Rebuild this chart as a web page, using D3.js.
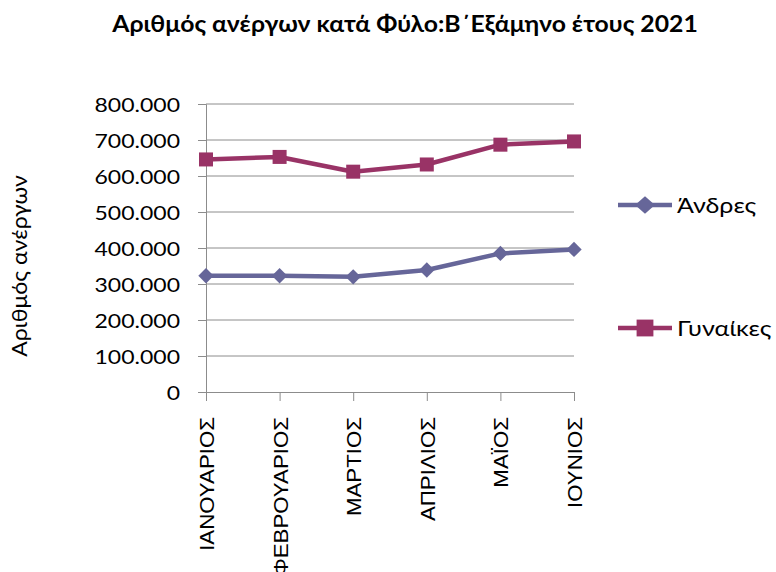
<!DOCTYPE html>
<html>
<head>
<meta charset="utf-8">
<script src="https://cdn.jsdelivr.net/npm/d3@7"></script>
<style>
  html, body { margin: 0; padding: 0; background: #fff; }
  svg { display: block; }
</style>
</head>
<body>
<svg id="chart" width="776" height="572"></svg>
<script>
// ---------- data ----------
const months = ["ΙΑΝΟΥΑΡΙΟΣ", "ΦΕΒΡΟΥΑΡΙΟΣ", "ΜΑΡΤΙΟΣ", "ΑΠΡΙΛΙΟΣ", "ΜΑΪΟΣ", "ΙΟΥΝΙΟΣ"];
const seriesNames = ["Άνδρες", "Γυναίκες"];
const andres = [323000, 323000, 320000, 339000, 385000, 396000];
const gynaikes = [646000, 653000, 612000, 632000, 687000, 696000];
const yTicks = [0, 100000, 200000, 300000, 400000, 500000, 600000, 700000, 800000];
const titleText = "Αριθμός ανέργων κατά Φύλο:Β΄Εξάμηνο έτους 2021";
const yAxisTitle = "Αριθμός ανέργων";

// ---------- setup ----------
const svg = d3.select("#chart");
const colors = ["#666699", "#993366"];
const seriesValues = [andres, gynaikes];
const FONT = "Lato, 'Open Sans', sans-serif";

const x = d3.scalePoint().domain(months).range([206, 574]).padding(0);
const y = d3.scaleLinear().domain([0, 800000]).range([392, 104]);

const locale = d3.formatLocale({ decimal: ",", thousands: ".", grouping: [3], currency: ["", "€"] });
const fmt = locale.format(",d");

// stretch helper: widen text along its direction by a factor
function stretch(sel, k) {
  sel.each(function () {
    const w = this.getComputedTextLength();
    d3.select(this).attr("textLength", w * k).attr("lengthAdjust", "spacingAndGlyphs");
  });
}

// ---------- title ----------
const title = svg.append("text")
  .attr("x", 405).attr("y", 32)
  .attr("text-anchor", "middle")
  .style("font-family", FONT).style("font-weight", "bold").style("font-size", "22px")
  .attr("fill", "#000")
  .text(titleText);
stretch(title, 1.125);

// ---------- gridlines ----------
svg.append("g")
  .selectAll("line")
  .data(yTicks.filter(d => d > 0))
  .join("line")
  .attr("x1", x.range()[0]).attr("x2", x.range()[1])
  .attr("y1", d => y(d)).attr("y2", d => y(d))
  .attr("stroke", "#8c8c8c").attr("stroke-width", 1);

// ---------- y axis ----------
const yAxis = svg.append("g")
  .attr("transform", `translate(${x.range()[0]},0)`)
  .call(d3.axisLeft(y).tickValues(yTicks).tickFormat(fmt).tickSize(8).tickPadding(18));
yAxis.select(".domain").attr("stroke", "#8c8c8c");
yAxis.selectAll(".tick line").attr("stroke", "#8c8c8c");
yAxis.selectAll(".tick text")
  .style("font-family", FONT).style("font-size", "19.5px").attr("fill", "#000").attr("dy", "0.36em");
stretch(yAxis.selectAll(".tick text"), 1.18);

// ---------- x axis ----------
const xAxis = svg.append("g")
  .attr("transform", `translate(0,${y(0)})`)
  .call(d3.axisBottom(x).tickSize(9).tickSizeOuter(0));
xAxis.select(".domain").attr("stroke", "#8c8c8c");
xAxis.selectAll(".tick line").attr("stroke", "#8c8c8c");
xAxis.selectAll(".tick text")
  .attr("transform", "translate(0,25) rotate(-90)")
  .attr("text-anchor", "end")
  .attr("x", 0).attr("y", 0).attr("dy", "0.36em")
  .style("font-family", "'Liberation Sans', Arial, sans-serif").style("font-size", "21px")
  .attr("fill", "#000");
stretch(xAxis.selectAll(".tick text"), 1.06);

// ---------- y axis title ----------
const yt = svg.append("text")
  .attr("transform", "translate(27,266) rotate(-90)")
  .attr("text-anchor", "middle")
  .style("font-family", FONT).style("font-size", "22px")
  .attr("fill", "#000")
  .text(yAxisTitle);
stretch(yt, 1.05);

// ---------- series ----------
const line = d3.line().x((d, i) => x(months[i])).y(d => y(d));
const symDiamond = d3.symbol().type(d3.symbolDiamond2).size(150);
const symSquare = d3.symbol().type(d3.symbolSquare2).size(250);

seriesValues.forEach((vals, si) => {
  const g = svg.append("g");
  g.append("path").datum(vals)
    .attr("d", line).attr("fill", "none")
    .attr("stroke", colors[si]).attr("stroke-width", 4.5).attr("stroke-linejoin", "round");
  g.selectAll("path.m").data(vals).join("path")
    .attr("class", "m")
    .attr("transform", (d, i) => `translate(${x(months[i])},${y(d)})`)
    .attr("d", si === 0 ? symDiamond() : symSquare())
    .attr("fill", colors[si]);
});

// ---------- legend ----------
const legendY = [205, 328];
const legDiamond = d3.symbol().type(d3.symbolDiamond2).size(190);
const legSquare = d3.symbol().type(d3.symbolSquare2).size(360);
const legend = svg.append("g").selectAll("g").data(seriesNames).join("g")
  .attr("transform", (d, i) => `translate(618,${legendY[i]})`);
legend.append("line").attr("x1", 0).attr("x2", 54).attr("y1", 0).attr("y2", 0)
  .attr("stroke", (d, i) => colors[i]).attr("stroke-width", 4.5);
legend.append("path")
  .attr("transform", (d, i) => i === 0 ? "translate(27,0) scale(1.15,1)" : "translate(27,0)")
  .attr("d", (d, i) => i === 0 ? legDiamond() : legSquare())
  .attr("fill", (d, i) => colors[i]);
const lt = legend.append("text")
  .attr("x", 59).attr("y", 0).attr("dy", "0.36em")
  .style("font-family", FONT).style("font-size", "22px").attr("fill", "#000")
  .text(d => d);
stretch(lt, 1.14);
</script>
</body>
</html>
